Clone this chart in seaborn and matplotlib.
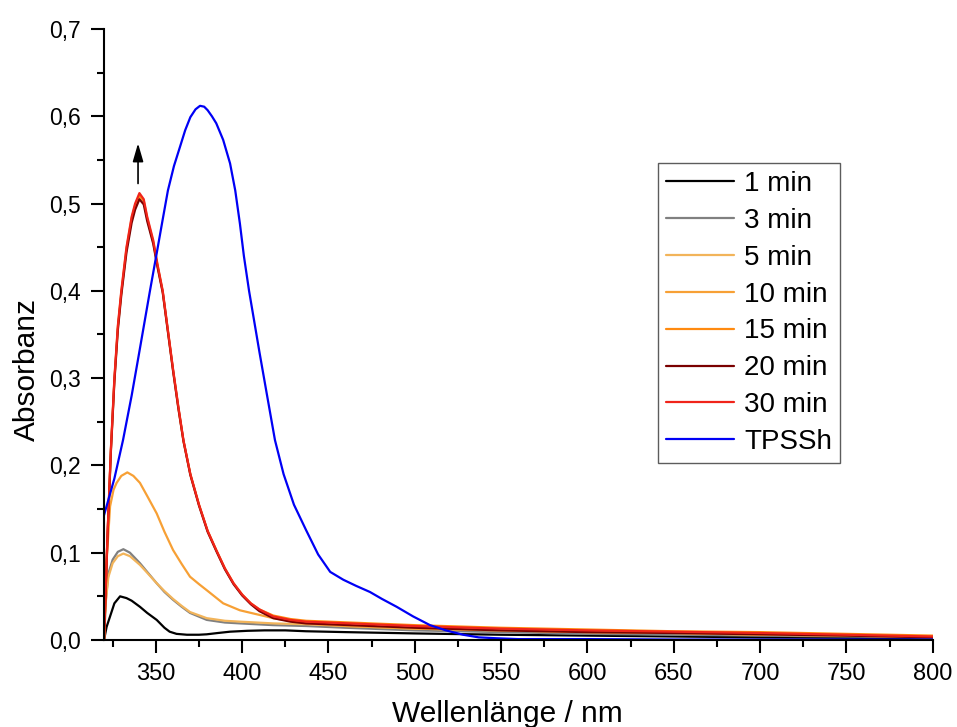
import numpy as np
import pandas as pd
import matplotlib
matplotlib.use('Agg')
import matplotlib.pyplot as plt
from matplotlib.ticker import MultipleLocator, FuncFormatter
import seaborn as sns

# ---------------- data ---------------- #
nm_30 = [320, 322, 324, 326, 328, 330, 333, 336, 338, 340.5, 343, 345, 348.5, 351, 354, 357, 360, 363,
         366, 370, 375, 380, 385, 390, 395, 400, 405, 410, 418, 428, 437, 450, 475, 500, 550, 600,
         650, 700, 750, 800]
abs_30 = [0.0, 0.12, 0.22, 0.30, 0.36, 0.40, 0.45, 0.485, 0.50, 0.512, 0.505, 0.485, 0.458, 0.43, 0.40,
          0.355, 0.31, 0.268, 0.229, 0.19, 0.155, 0.125, 0.103, 0.082, 0.065, 0.052, 0.042, 0.035,
          0.027, 0.023, 0.021, 0.020, 0.018, 0.016, 0.013, 0.011, 0.0095, 0.008, 0.006, 0.004]
abs_20 = [0.0, 0.118, 0.217, 0.296, 0.355, 0.395, 0.444, 0.478, 0.493, 0.505, 0.499, 0.480, 0.454, 0.427,
          0.398, 0.353, 0.308, 0.266, 0.228, 0.189, 0.154, 0.124, 0.102, 0.081, 0.064, 0.051, 0.041,
          0.033, 0.025, 0.021, 0.019, 0.018, 0.016, 0.014, 0.011, 0.009, 0.008, 0.0065, 0.005, 0.003]
abs_15 = [0.0, 0.119, 0.219, 0.298, 0.358, 0.398, 0.448, 0.483, 0.498, 0.509, 0.503, 0.483, 0.456, 0.429,
          0.399, 0.354, 0.309, 0.267, 0.228, 0.19, 0.155, 0.125, 0.103, 0.082, 0.065, 0.052, 0.042,
          0.035, 0.028, 0.024, 0.022, 0.021, 0.019, 0.017, 0.014, 0.012, 0.010, 0.009, 0.007, 0.005]

nm_10 = [320, 321.5, 323.5, 325.5, 327.3, 330, 333.5, 337, 340.8, 345, 350.5, 355, 360, 365, 369.8, 375,
         379.5, 389, 398.7, 418, 437, 460, 500, 550, 600, 650, 700, 750, 800]
abs_10 = [0.0, 0.09, 0.153, 0.172, 0.18, 0.188, 0.192, 0.188, 0.18, 0.165, 0.145, 0.124, 0.103, 0.087,
          0.0725, 0.064, 0.057, 0.042, 0.034, 0.025, 0.019, 0.016, 0.013, 0.011, 0.009, 0.008, 0.006,
          0.005, 0.003]

nm_3 = [320, 321, 322.5, 325, 328, 331.2, 335, 340.8, 345, 350.5, 355, 360, 365, 369.8, 379.5, 390, 398.7,
        418, 437, 460, 500, 550, 600, 650, 700, 750, 800]
abs_3 = [0.0, 0.045, 0.076, 0.092, 0.101, 0.104, 0.100, 0.088, 0.078, 0.065, 0.055, 0.046, 0.038, 0.031,
         0.023, 0.020, 0.019, 0.017, 0.016, 0.014, 0.011, 0.009, 0.007, 0.006, 0.005, 0.004, 0.003]
abs_5 = [0.0, 0.043, 0.072, 0.088, 0.096, 0.099, 0.096, 0.086, 0.077, 0.065, 0.056, 0.047, 0.039, 0.032,
         0.025, 0.022, 0.021, 0.019, 0.018, 0.016, 0.013, 0.011, 0.009, 0.008, 0.006, 0.005, 0.004]

nm_1 = [320, 321.5, 323.5, 326, 329.3, 333, 336, 340.8, 345, 350.5, 355, 358, 362, 368, 375, 379.5, 386, 393,
        403, 413, 425, 437, 460, 500, 550, 600, 650, 700, 750, 800]
abs_1 = [0.0, 0.015, 0.027, 0.042, 0.05, 0.048, 0.045, 0.038, 0.031, 0.023, 0.014, 0.0095, 0.007, 0.006,
         0.006, 0.0065, 0.008, 0.0095, 0.0105, 0.011, 0.011, 0.010, 0.009, 0.0075, 0.006, 0.005, 0.004,
         0.003, 0.0025, 0.002]

nm_tp = [320, 326, 331, 336, 340, 346.6, 350.5, 354, 357, 360.5, 364, 367, 370, 373, 375.6, 378, 380, 382.5,
         385, 389, 393, 396, 398.7, 401, 404, 407, 410, 414, 419, 424, 430, 437, 444, 451, 458.6, 466,
         474, 481, 489.5, 499, 508.8, 518, 528, 537, 547, 560, 600, 650, 700, 750, 800]
abs_tp = [0.143, 0.185, 0.229, 0.28, 0.325, 0.40, 0.443, 0.482, 0.515, 0.543, 0.565, 0.584, 0.599, 0.608,
          0.612, 0.611, 0.607, 0.600, 0.592, 0.573, 0.546, 0.515, 0.477, 0.44, 0.40, 0.365, 0.33, 0.285,
          0.229, 0.19, 0.155, 0.126, 0.098, 0.078, 0.069, 0.062, 0.055, 0.047, 0.038, 0.027, 0.017,
          0.011, 0.006, 0.003, 0.002, 0.001, 0.001, 0.0005, 0.0005, 0.0005, 0.0005]

labels = ['1 min', '3 min', '5 min', '10 min', '15 min', '20 min', '30 min', 'TPSSh']
colors = ['#000000', '#808080', '#F2B45A', '#F7A035', '#FF8A10', '#7A0000', '#F0241A', '#0000F5']

series = [(nm_1, abs_1), (nm_3, abs_3), (nm_3, abs_5), (nm_10, abs_10), (nm_30, abs_15),
          (nm_30, abs_20), (nm_30, abs_30), (nm_tp, abs_tp)]

frames = []
for lab, (x, y) in zip(labels, series):
    frames.append(pd.DataFrame({'nm': x, 'A': y, 'Probe': lab}))
df = pd.concat(frames, ignore_index=True)

# ---------------- plot ---------------- #
sns.set_style('ticks')
plt.rcParams['font.family'] = ['Liberation Sans', 'DejaVu Sans']
plt.rcParams['text.color'] = 'black'
plt.rcParams['axes.labelcolor'] = 'black'
plt.rcParams['xtick.color'] = 'black'
plt.rcParams['ytick.color'] = 'black'

fig = plt.figure(figsize=(9.57, 7.27), dpi=100)
ax = fig.add_axes([0.1087, 0.1197, 0.866, 0.8404])

sns.lineplot(data=df, x='nm', y='A', hue='Probe', hue_order=labels,
             palette=dict(zip(labels, colors)), sort=False, estimator=None,
             linewidth=1.6, ax=ax)

ax.annotate('', xy=(339.7, 0.569), xytext=(339.7, 0.523),
            arrowprops=dict(arrowstyle='-|>,head_length=0.55,head_width=0.16', color='black',
                            lw=1.2, mutation_scale=20, shrinkA=0, shrinkB=0))

ax.set_xlim(320, 800)
ax.set_ylim(0, 0.7)
ax.xaxis.set_major_locator(MultipleLocator(50))
ax.xaxis.set_minor_locator(MultipleLocator(25))
ax.yaxis.set_major_locator(MultipleLocator(0.1))
ax.yaxis.set_minor_locator(MultipleLocator(0.05))
ax.yaxis.set_major_formatter(FuncFormatter(lambda v, p: f'{v:.1f}'.replace('.', ',')))

ax.tick_params(which='major', direction='out', length=9.5, width=1.5, pad=7, color='black')
ax.tick_params(which='minor', direction='out', length=5, width=1.5, color='black')
ax.tick_params(axis='x', labelsize=17)
ax.tick_params(axis='y', labelsize=16.5)
for s in ['top', 'right']:
    ax.spines[s].set_visible(False)
for s in ['left', 'bottom']:
    ax.spines[s].set_linewidth(1.5)
    ax.spines[s].set_color('black')

ax.set_xlabel('Wellenlänge / nm', fontsize=21.5)
ax.set_ylabel('Absorbanz', fontsize=21.5)
ax.xaxis.set_label_coords(0.487, -0.098)
ax.yaxis.set_label_coords(-0.076, 0.443)

leg = ax.legend(loc='upper left', bbox_to_anchor=(0.668, 0.781), borderaxespad=0,
                fontsize=20, frameon=True, fancybox=False, edgecolor='#333333',
                handlelength=2.45, handletextpad=0.36, labelspacing=0.39, borderpad=0.3)
leg.get_frame().set_linewidth(1.0)
for line in leg.get_lines():
    line.set_linewidth(1.6)

fig.savefig('out.png', dpi=100)
